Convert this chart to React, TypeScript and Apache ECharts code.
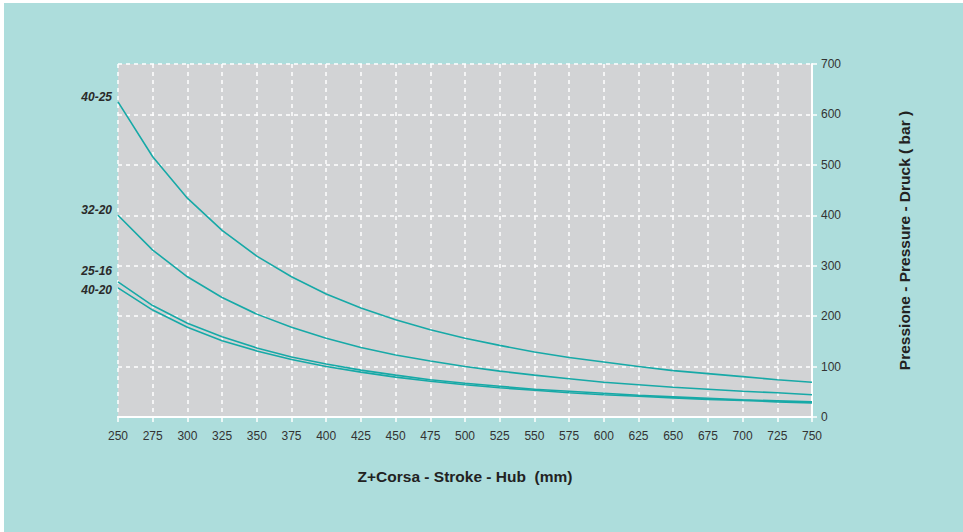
import React, { useEffect, useRef } from "react";
import * as echarts from "echarts";

const strokes = [250, 275, 300, 325, 350, 375, 400, 425, 450, 475, 500, 525, 550, 575, 600, 625, 650, 675, 700, 725, 750];
const s4025 = [625, 516, 434, 370, 319, 278, 244, 216, 193, 173, 156, 142, 129, 118, 109, 100, 92, 86, 80, 74, 69];
const s3220 = [400, 331, 278, 237, 204, 178, 156, 138, 123, 111, 100, 91, 83, 76, 69, 64, 59, 55, 51, 48, 44];
const s2516 = [268, 221, 186, 159, 137, 119, 105, 93, 83, 74, 67, 61, 55, 51, 47, 43, 40, 37, 34, 32, 30];
const s4020 = [256, 212, 178, 151, 131, 114, 100, 89, 79, 71, 64, 58, 53, 48, 44, 41, 38, 35, 33, 30, 28];
const seriesNames = ["40-25", "32-20", "25-16", "40-20"];
const labelOffsets = [-5, -5, -11, 2];

export default function App() {
  const ref = useRef<HTMLDivElement>(null);
  useEffect(() => {
    const chart = echarts.init(ref.current!, null, { renderer: "svg" });
    const all = [s4025, s3220, s2516, s4020];
    chart.setOption({
      animation: false,
      backgroundColor: "#addddc",
      grid: { left: 114, right: 151, top: 61, bottom: 115, show: true, backgroundColor: "#d2d3d5", borderWidth: 0 },
      xAxis: {
        type: "value",
        min: 250,
        max: 750,
        interval: 25,
        name: "Z+Corsa - Stroke - Hub  (mm)",
        nameLocation: "middle",
        nameGap: 51,
        nameTextStyle: { fontFamily: "Liberation Sans", fontWeight: "bold", fontSize: 15.5, color: "#222" },
        axisLine: { show: true, lineStyle: { color: "#ffffff", width: 2 } },
        axisTick: { show: true, length: 5, lineStyle: { color: "#ffffff", width: 1.5 } },
        axisLabel: { fontFamily: "Liberation Sans", fontSize: 12, color: "#333", margin: 13 },
        splitLine: { show: true, lineStyle: { color: "#ffffff", type: [4, 4], width: 1.5 } },
      },
      yAxis: {
        type: "value",
        position: "right",
        min: 0,
        max: 700,
        interval: 100,
        name: "Pressione - Pressure - Druck ( bar )",
        nameLocation: "middle",
        nameRotate: 90,
        nameGap: 84,
        nameTextStyle: { fontFamily: "Liberation Sans", fontWeight: "bold", fontSize: 15.5, color: "#222" },
        axisLine: { show: true, lineStyle: { color: "#ffffff", width: 2 } },
        axisTick: { show: true, length: 5, lineStyle: { color: "#ffffff", width: 1.5 } },
        axisLabel: { fontFamily: "Liberation Sans", fontSize: 12, color: "#333", margin: 9 },
        splitLine: { show: true, lineStyle: { color: "#ffffff", type: [4, 4], width: 1.5 } },
      },
      series: all.map((vals, i) => ({
        type: "line",
        name: seriesNames[i],
        smooth: false,
        showSymbol: false,
        symbol: "none",
        lineStyle: { color: "#17a9a7", width: 1.6 },
        data: vals.map((v, j) => [strokes[j], v]),
      })),
    });
    const texts = all.map((vals, i) => {
      const p = chart.convertToPixel({ gridIndex: 0 }, [strokes[0], vals[0]]) as number[];
      return {
        type: "text",
        x: p[0] - 6,
        y: p[1] + labelOffsets[i],
        style: {
          text: seriesNames[i],
          align: "right",
          verticalAlign: "middle",
          fontFamily: "Liberation Sans",
          fontStyle: "italic",
          fontWeight: "bold",
          fontSize: 12,
          fill: "#2a2a2a",
        },
      };
    });
    chart.setOption({ graphic: texts });
    return () => chart.dispose();
  }, []);
  return (
    <div style={{ position: "absolute", left: 0, top: 0, width: 963, height: 532, background: "#ffffff" }}>
      <div ref={ref} style={{ position: "absolute", left: 4, top: 3, width: 959, height: 529 }} />
    </div>
  );
}
